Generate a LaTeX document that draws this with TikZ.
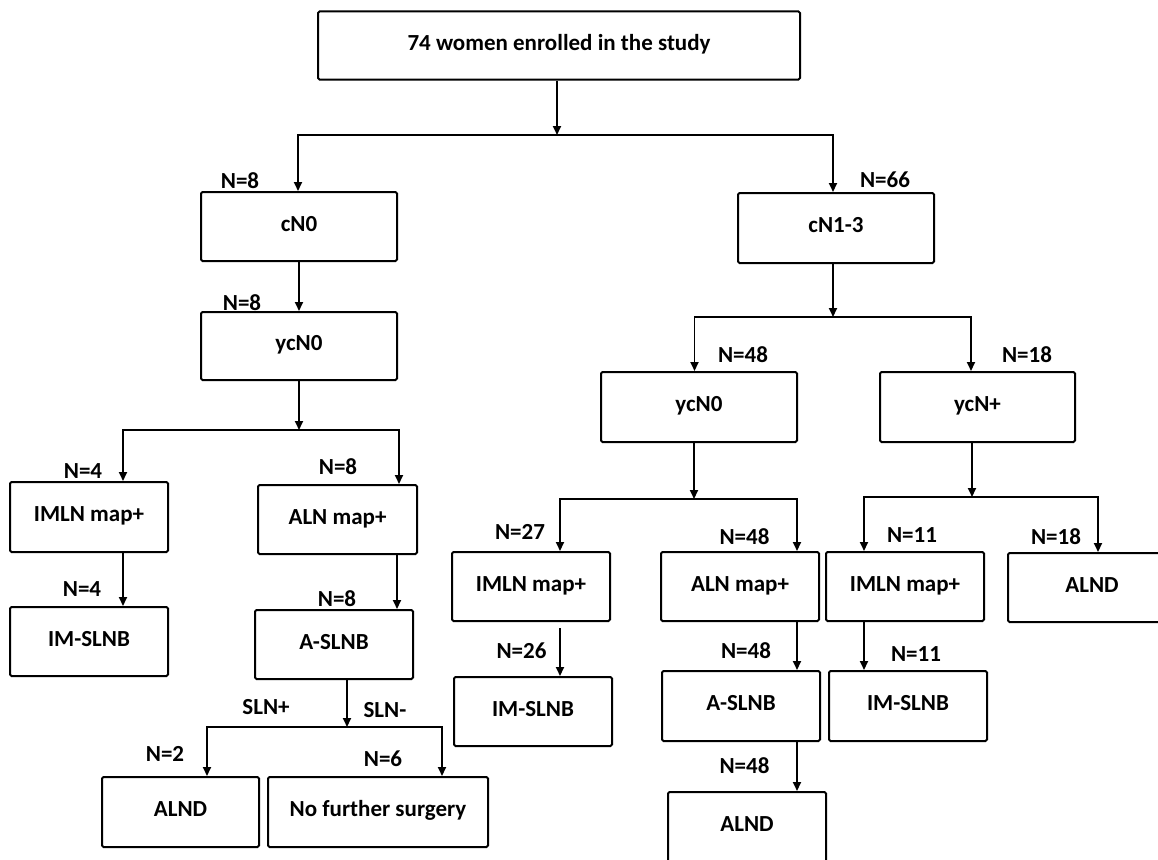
\documentclass[tikz,border=0pt]{standalone}
\usepackage{fontspec}
\setmainfont{Carlito}
\usetikzlibrary{arrows.meta}
\tikzset{
  box/.style={draw, line width=2pt, rectangle, rounded corners=1.5pt, inner sep=0pt,
    text height=15pt, text depth=5.6pt, font=\bfseries\fontsize{23}{27}\selectfont},
  wh/.style 2 args={minimum width=#1, minimum height=#2},
  lab/.style={inner sep=0pt, text height=15pt, text depth=5.6pt, font=\bfseries\fontsize{23}{27}\selectfont},
  arr/.style={line width=1.8pt, -{Triangle[length=9pt,width=8pt]}},
}
\begin{document}
\begin{tikzpicture}[x=1pt,y=-1pt]
\useasboundingbox (0,0) rectangle (1158,859);
\clip (0,0) rectangle (1158,859);
\fill[white] (0,0) rectangle (1158,859);

% boxes
\node[box,wh={482}{68}] (top) at (559,45.5) {74 women enrolled in the study};
\node[box,wh={196}{69}] (cn0) at (299,226.5) {cN0};
\node[box,wh={196}{70}] (cn13) at (836,228) {cN1-3};
\node[box,wh={196}{68}] (ycnA) at (299,346) {ycN0};
\node[box,wh={158}{70}] (imlnL) at (89,517) {IMLN map+};
\node[box,wh={159}{69}] (alnL) at (337.5,519.5) {ALN map+};
\node[box,wh={158}{69}] (imslnbL) at (89,641.5) {IM-SLNB};
\node[box,wh={158}{69}] (aslnbL) at (334,644.5) {A-SLNB};
\node[box,wh={157}{70}] (alndL) at (180.5,812) {ALND};
\node[box,wh={220}{70}] (nfs) at (378,812) {No further surgery};

\node[box,wh={196}{70}] (ycnB) at (699,407) {ycN0};
\node[box,wh={195}{70}] (ycnP) at (977.5,407) {ycN+};
\node[box,wh={158}{69}] (imlnM) at (531,586.5) {IMLN map+};
\node[box,wh={158}{69}] (alnM) at (740,586.5) {ALN map+};
\node[box,wh={158}{69}] (imlnR) at (905,586.5) {IMLN map+};
\node[box,wh={168}{69}] (alndR) at (1092,587.5) {ALND};
\node[box,wh={158}{69}] (imslnbM) at (533,711.5) {IM-SLNB};
\node[box,wh={158}{70}] (aslnbM) at (741,706) {A-SLNB};
\node[box,wh={158}{70}] (imslnbR) at (908,706) {IM-SLNB};
\node[box,wh={158}{70}] (alndM) at (747,827) {ALND};

% labels
\node[lab] (l1) at (240,184) {N=8};
\node[lab] (l2) at (885,183) {N=66};
\node[lab] (l3) at (242,306) {N=8};
\node[lab] (l4) at (83,474) {N=4};
\node[lab] (l5) at (338,470) {N=8};
\node[lab] (l6) at (82,592) {N=4};
\node[lab] (l7) at (337,602) {N=8};
\node[lab] (l8) at (266,710) {SLN+};
\node[lab] (l9) at (385,713) {SLN-};
\node[lab] (l10) at (165,757) {N=2};
\node[lab] (l11) at (383,762) {N=6};
\node[lab] (l12) at (743,358) {N=48};
\node[lab] (l13) at (1027,358) {N=18};
\node[lab] (l14) at (520,535) {N=27};
\node[lab] (l15) at (744.5,540) {N=48};
\node[lab] (l16) at (912,538) {N=11};
\node[lab] (l17) at (1056,540) {N=18};
\node[lab] (l18) at (521.5,654) {N=26};
\node[lab] (l19) at (746,654) {N=48};
\node[lab] (l20) at (916,657) {N=11};
\node[lab] (l21) at (744.5,769) {N=48};

% junction coordinates
\coordinate (j0) at (557,135);
\coordinate (x0a) at (298,135);
\coordinate (x0b) at (833,135);
\coordinate (jA) at (299,430);
\coordinate (xA1) at (123,430);
\coordinate (xA2) at (399,430);
\coordinate (xA3) at (397,430);
\coordinate (jS) at (347,727);
\coordinate (xS1) at (207,727);
\coordinate (xS2) at (442,727);
\coordinate (jR) at (833,317);
\coordinate (xR1) at (694.5,317);
\coordinate (xR2) at (971,317);
\coordinate (jB) at (694,499);
\coordinate (xB1) at (560,499);
\coordinate (xB2) at (797,499);
\coordinate (jP) at (972,497);
\coordinate (xP1) at (864,497);
\coordinate (xP2) at (1098,497);

% connectors
\draw[arr] (top.south -| j0) -- (j0);
\draw[arr] (j0) -| (x0a |- cn0.north);
\draw[arr] (j0) -| (x0b |- cn13.north);
\draw[arr] (cn0.south) -- (ycnA.north);
\draw[arr] (ycnA.south) -- (jA);
\draw[arr] (jA) -| (xA1 |- imlnL.north);
\draw[arr] (jA) -| (xA2 |- alnL.north);
\draw[arr] (xA1 |- imlnL.south) -- (xA1 |- imslnbL.north);
\draw[arr] (xA3 |- alnL.south) -- (xA3 |- aslnbL.north);
\draw[arr] (jS |- aslnbL.south) -- (jS);
\draw[arr] (jS) -| (xS1 |- alndL.north);
\draw[arr] (jS) -| (xS2 |- nfs.north);

\draw[arr] (jR |- cn13.south) -- (jR);
\draw[arr] (jR) -| (xR1 |- ycnB.north);
\draw[arr] (jR) -| (xR2 |- ycnP.north);
\draw[arr] (jB |- ycnB.south) -- (jB);
\draw[arr] (jB) -| (xB1 |- imlnM.north);
\draw[arr] (jB) -| (xB2 |- alnM.north);
\draw[arr] (jP |- ycnP.south) -- (jP);
\draw[arr] (jP) -| (xP1 |- imlnR.north);
\draw[arr] (jP) -| (xP2 |- alndR.north);
\draw[arr, shorten <=6pt] (xB1 |- imlnM.south) -- (xB1 |- imslnbM.north);
\draw[arr] (xB2 |- alnM.south) -- (xB2 |- aslnbM.north);
\draw[arr] (xP1 |- imlnR.south) -- (xP1 |- imslnbR.north);
\draw[arr] (xB2 |- aslnbM.south) -- (xB2 |- alndM.north);
\end{tikzpicture}
\end{document}
